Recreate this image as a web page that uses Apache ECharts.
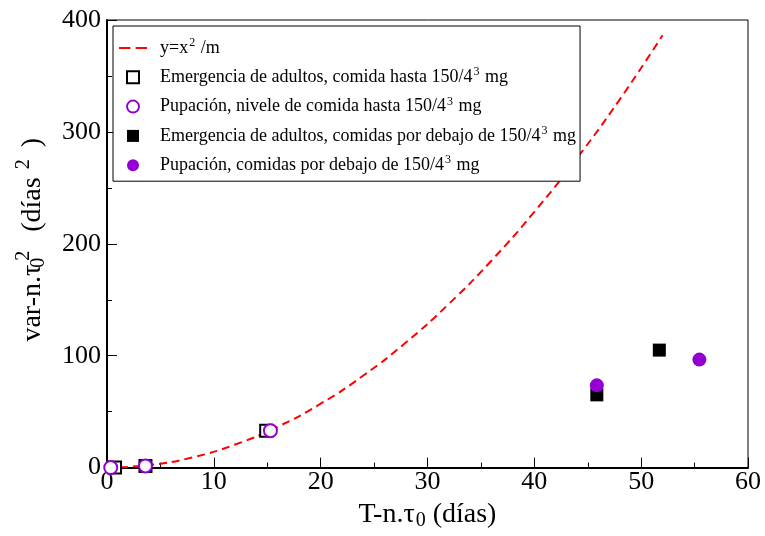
<!DOCTYPE html>
<html>
<head>
<meta charset="utf-8">
<script src="https://cdn.jsdelivr.net/npm/echarts@6/dist/echarts.min.js"></script>
<style>html,body{margin:0;padding:0;background:#fff}#c{width:765px;height:536px}</style>
</head>
<body>
<div id="c"></div>
<script>
// Data
const curveX = [0, 4, 8, 12, 16, 20, 24, 28, 32, 36, 40, 44, 48, 52];
const curveY = [0, 2.3, 9.1, 20.6, 36.6, 57.1, 82.3, 112, 146.3, 185.1, 228.6, 276.6, 329.1, 386.3];

const openSqX = [0.75, 3.6, 14.9];
const openSqY = [0, 1.5, 33];
const openCircX = [0.35, 3.6, 15.3];
const openCircY = [0, 1.5, 33];
const fillSqX = [45.85, 51.7];
const fillSqY = [65, 105];
const fillCircX = [45.85, 55.45];
const fillCircY = [73.5, 96.5];

const seriesNames = [
  'y=x² /m',
  'Emergencia de adultos, comida hasta 150/4³ mg',
  'Pupación, nivele de comida hasta 150/4³ mg',
  'Emergencia de adultos, comidas por debajo de 150/4³ mg',
  'Pupación, comidas por debajo de 150/4³ mg'
];
const xTicks = [0, 10, 20, 30, 40, 50, 60];
const yTicks = [0, 100, 200, 300, 400];

const zip = (a, b) => a.map((v, i) => [v, b[i]]);
const FONT = '"Liberation Serif", "Times New Roman", serif';
const PURPLE = '#9400d3';
const SQUARE = 'path://M0,0h10v10h-10z';
const DASH = 'path://M0,0h11v2h-11z M16,0h11v2h-11z';

const chart = echarts.init(document.getElementById('c'));
chart.setOption({
  animation: false,
  backgroundColor: '#fff',
  grid: {left: 107, right: 17, top: 20, bottom: 68, show: true, borderColor: '#000', borderWidth: 1},
  xAxis: {
    type: 'value', min: xTicks[0], max: xTicks[xTicks.length - 1], interval: 10,
    axisLine: {lineStyle: {color: '#000', width: 2}},
    axisTick: {inside: true, length: 10, lineStyle: {color: '#000', width: 1}},
    minorTick: {show: true, splitNumber: 2, length: 5, lineStyle: {color: '#000', width: 1}},
    splitLine: {show: false},
    axisLabel: {color: '#000', fontFamily: FONT, fontSize: 26, margin: 2},
    name: 'T-n.τ{sub|0} (días)',
    nameLocation: 'middle', nameGap: 29,
    nameTextStyle: {color: '#000', fontFamily: FONT, fontSize: 28,
      rich: {sub: {fontFamily: FONT, fontSize: 20, color: '#000', padding: [13, 0, 0, 1]}}}
  },
  yAxis: {
    type: 'value', min: yTicks[0], max: yTicks[yTicks.length - 1], interval: 100,
    axisLine: {lineStyle: {color: '#000', width: 2}},
    axisTick: {inside: true, length: 10, lineStyle: {color: '#000', width: 1}},
    minorTick: {show: true, splitNumber: 2, length: 5, lineStyle: {color: '#000', width: 1}},
    splitLine: {show: false},
    axisLabel: {color: '#000', fontFamily: FONT, fontSize: 26, margin: 6},
    name: 'var-n.τ{sub|0}{sup|2} (días{sup2|2})',
    nameLocation: 'middle', nameGap: 56, nameRotate: 90,
    nameTextStyle: {color: '#000', fontFamily: FONT, fontSize: 28, padding: [0, 0, 0, 8],
      rich: {
        sub: {fontFamily: FONT, fontSize: 20, color: '#000', padding: [13, 0, 0, 2], width: 0, align: 'left'},
        sup: {fontFamily: FONT, fontSize: 20, color: '#000', padding: [0, 12, 17, 2]},
        sup2: {fontFamily: FONT, fontSize: 20, color: '#000', padding: [0, 12, 17, 8]}
      }}
  },
  legend: {
    orient: 'vertical', left: 113, top: 26,
    padding: [11, 4, 5, 6],
    borderColor: '#000', borderWidth: 1, backgroundColor: '#fff',
    itemWidth: 28, itemHeight: 12, itemGap: 7.3,
    symbolKeepAspect: true,
    data: [
      {name: seriesNames[0], icon: DASH, itemStyle: {color: '#ff0000'}},
      {name: seriesNames[1], icon: SQUARE},
      {name: seriesNames[2]},
      {name: seriesNames[3], icon: SQUARE},
      {name: seriesNames[4]}
    ],
    formatter: n => n.replace('²', '{sup|2}').replace('³', '{sup|3}'),
    textStyle: {color: '#000', fontFamily: FONT, fontSize: 18, lineHeight: 22, padding: [0, 0, 0, 8],
      rich: {sup: {fontFamily: FONT, fontSize: 12, color: '#000', padding: [0, 1, 10, 1]}}}
  },
  series: [
    {name: seriesNames[0], type: 'line', smooth: true, symbol: 'none', showSymbol: false,
      data: zip(curveX, curveY), lineStyle: {color: '#ff0000', width: 2, type: [8, 5]},
      itemStyle: {color: '#ff0000'}, z: 2},
    {name: seriesNames[1], type: 'scatter', symbol: 'rect', symbolSize: 12, clip: false,
      data: zip(openSqX, openSqY), itemStyle: {color: '#fff', borderColor: '#000', borderWidth: 2, opacity: 1}, z: 3},
    {name: seriesNames[2], type: 'scatter', symbol: 'circle', symbolSize: 13, clip: false,
      data: zip(openCircX, openCircY), itemStyle: {color: '#fff', borderColor: PURPLE, borderWidth: 2, opacity: 1}, z: 4},
    {name: seriesNames[3], type: 'scatter', symbol: 'rect', symbolSize: 13, clip: false,
      data: zip(fillSqX, fillSqY), itemStyle: {color: '#000', opacity: 1}, z: 5},
    {name: seriesNames[4], type: 'scatter', symbol: 'circle', symbolSize: 14, clip: false,
      data: zip(fillCircX, fillCircY), itemStyle: {color: PURPLE, opacity: 1}, z: 6}
  ]
});
</script>
</body>
</html>
